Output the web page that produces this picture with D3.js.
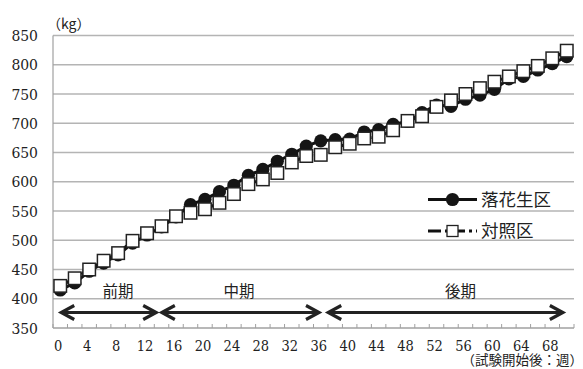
<!DOCTYPE html>
<html>
<head>
<meta charset="utf-8">
<script src="https://cdn.jsdelivr.net/npm/d3@7"></script>
<style>
  html, body { margin: 0; padding: 0; background: #fff; }
  svg { display: block; }
  .num { font-family: "DejaVu Serif Condensed", "DejaVu Serif", serif; font-stretch: condensed; }
  .jp { font-family: "Noto Sans CJK JP", "Noto Sans CJK SC", sans-serif; }
</style>
</head>
<body>
<svg id="chart" width="583" height="369"></svg>
<script>
// ---- data ----
const weeks = [0,2,4,6,8,10,12,14,16,18,20,22,24,26,28,30,32,34,36,38,40,42,44,46,48,50,52,54,56,58,60,62,64,66,68,70];
const peanut = [415,427,447,461,475,495,509,523,540,561,570,583,594,611,621,635,647,661,670,672,673,685,689,698,703,718,731,729,741,748,758,776,780,791,802,814];
const control = [422,435,450,465,478,499,512,524,541,547,553,564,579,596,604,615,633,644,646,659,665,674,677,688,704,712,728,739,750,760,771,780,789,798,811,824];
const yTicks = [350,400,450,500,550,600,650,700,750,800,850];
const xTickLabels = [0,4,8,12,16,20,24,28,32,36,40,44,48,52,56,60,64,68];
const seriesNames = ["落花生区", "対照区"];
const periodNames = ["前期", "中期", "後期"];
const periodStart = [0, 13.9, 36.9];
const periodEnd = [13.4, 35.9, 69.6];
const periodLabelWeek = [8, 24.7, 55.3];
const yUnit = "（kg）";
const xUnit = "（試験開始後：週）";

// ---- layout ----
const svg = d3.select("#chart");
const L = 53, R = 574, T = 35.5, B = 328;
const x = d3.scaleBand().domain(weeks).range([L, R]).paddingInner(0).paddingOuter(0);
const bw = x.bandwidth();
const cx = w => x(w) + bw / 2;
const wx = d3.scaleLinear().domain([0, 70]).range([cx(0), cx(70)]);
const y = d3.scaleLinear().domain([350, 850]).range([B, T]);

// gridlines
svg.append("g").selectAll("line").data(yTicks.filter(v => v > 350)).join("line")
  .attr("x1", L).attr("x2", R).attr("y1", d => y(d)).attr("y2", d => y(d))
  .attr("stroke", "#b4b4b4").attr("stroke-width", 1.3);

// left axis line
svg.append("line").attr("x1", L).attr("x2", L).attr("y1", T).attr("y2", B)
  .attr("stroke", "#a0a0a0").attr("stroke-width", 1.2);

// y tick labels
svg.append("g").selectAll("text").data(yTicks).join("text")
  .attr("class", "num")
  .attr("x", 38).attr("y", d => y(d)).attr("dy", "0.36em")
  .attr("text-anchor", "end").attr("font-size", 15.5)
  .attr("fill", "#222").text(d => d);

// bottom axis
const xAxis = d3.axisBottom(x).tickValues(xTickLabels).tickSize(0).tickPadding(0).tickFormat(d => d);
const gx = svg.append("g").attr("transform", `translate(0,${B})`).call(xAxis);
gx.attr("font-family", null).attr("font-size", null);
gx.select(".domain").remove();
gx.selectAll("text").attr("class", "num").attr("font-size", 14.5).attr("fill", "#222")
  .attr("dx", -2).attr("y", 17.5).attr("dy", "0.36em");
svg.append("line").attr("x1", L).attr("x2", R).attr("y1", B).attr("y2", B)
  .attr("stroke", "#a0a0a0").attr("stroke-width", 1.3);
// inside tick marks at category boundaries
svg.append("g").selectAll("line").data(d3.range(weeks.length + 1)).join("line")
  .attr("x1", i => L + i * bw).attr("x2", i => L + i * bw)
  .attr("y1", B).attr("y2", B - 4)
  .attr("stroke", "#a0a0a0").attr("stroke-width", 1);

// unit labels
svg.append("text").attr("class", "jp").attr("x", 47).attr("y", 24).attr("dy", "0.35em")
  .attr("font-size", 14).attr("fill", "#222").text(yUnit);
svg.append("text").attr("class", "jp").attr("x", 583).attr("y", 360).attr("dy", "0.35em").attr("text-anchor", "end")
  .attr("font-size", 13.5).attr("fill", "#222").text(xUnit);

// period arrows
const ag = svg.append("g");
const AY = 312.5, AH = 14, AV = 7;
periodNames.forEach((name, i) => {
  const x1 = wx(periodStart[i]), x2 = wx(periodEnd[i]);
  ag.append("line").attr("x1", x1 + 2).attr("x2", x2 - 2).attr("y1", AY).attr("y2", AY)
    .attr("stroke", "#222").attr("stroke-width", 3.2);
  ag.append("path").attr("d", `M${x1 + AH},${AY - AV} L${x1 + 1},${AY} L${x1 + AH},${AY + AV}`)
    .attr("fill", "none").attr("stroke", "#222").attr("stroke-width", 3.2).attr("stroke-linejoin", "miter");
  ag.append("path").attr("d", `M${x2 - AH},${AY - AV} L${x2 - 1},${AY} L${x2 - AH},${AY + AV}`)
    .attr("fill", "none").attr("stroke", "#222").attr("stroke-width", 3.2).attr("stroke-linejoin", "miter");
  ag.append("text").attr("class", "jp").attr("x", wx(periodLabelWeek[i])).attr("y", 292).attr("dy", "0.35em")
    .attr("text-anchor", "middle").attr("font-size", 15.5)
    .attr("fill", "#222").text(name);
});

// series
const line = d3.line().x((d, i) => cx(weeks[i])).y(d => y(d));
svg.append("path").datum(peanut).attr("d", line).attr("fill", "none")
  .attr("stroke", "#111").attr("stroke-width", 3);
svg.append("g").selectAll("circle").data(peanut).join("circle")
  .attr("cx", (d, i) => cx(weeks[i])).attr("cy", d => y(d)).attr("r", 6.6).attr("fill", "#151515");

svg.append("path").datum(control).attr("d", line).attr("fill", "none")
  .attr("stroke", "#111").attr("stroke-width", 3).attr("stroke-dasharray", "13,4,3,4");
const S = 12.5;
svg.append("g").selectAll("rect").data(control).join("rect")
  .attr("x", (d, i) => cx(weeks[i]) - S / 2).attr("y", d => y(d) - S / 2)
  .attr("width", S).attr("height", S).attr("fill", "#fff")
  .attr("stroke", "#222").attr("stroke-width", 1.5);

// legend
const lg = svg.append("g");
const LX1 = 428, LX2 = 477, LM = 452.5, LT = 481;
const rows = [199.5, 231];
lg.append("line").attr("x1", LX1).attr("x2", LX2).attr("y1", rows[0]).attr("y2", rows[0])
  .attr("stroke", "#111").attr("stroke-width", 3);
lg.append("circle").attr("cx", LM).attr("cy", rows[0]).attr("r", 6.6).attr("fill", "#151515");
lg.append("line").attr("x1", LX1).attr("x2", LX2).attr("y1", rows[1]).attr("y2", rows[1])
  .attr("stroke", "#111").attr("stroke-width", 3).attr("stroke-dasharray", "13,4,3,4");
lg.append("rect").attr("x", LM - 5.5).attr("y", rows[1] - 5.5).attr("width", 11).attr("height", 11)
  .attr("fill", "#fff").attr("stroke", "#222").attr("stroke-width", 1.3);
seriesNames.forEach((n, i) => {
  lg.append("text").attr("class", "jp").attr("x", LT).attr("y", rows[i]).attr("dy", "0.36em")
    .attr("font-size", 17.5).attr("fill", "#222").text(n);
});
</script>
</body>
</html>
